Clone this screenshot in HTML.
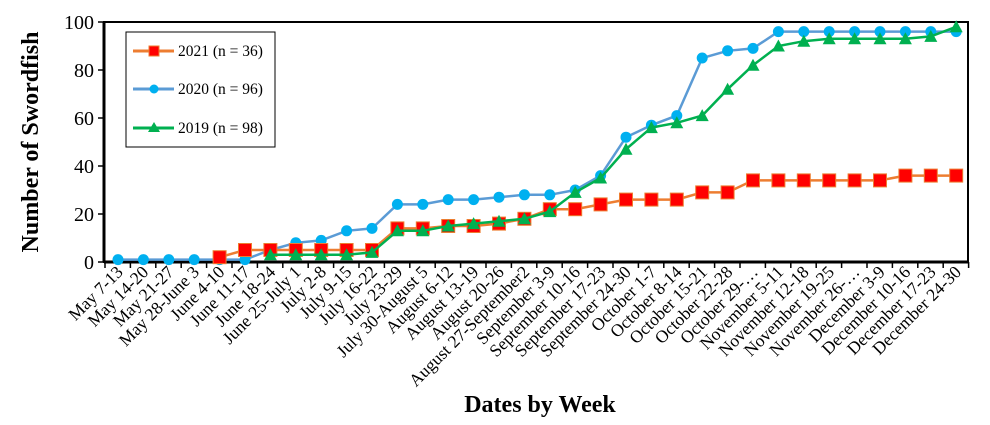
<!DOCTYPE html>
<html><head><meta charset="utf-8"><style>
body{margin:0;background:#fff}
svg text{font-family:"Liberation Serif",serif}
</style></head><body>
<svg id="s" width="990" height="420" xmlns="http://www.w3.org/2000/svg">
<rect x="104" y="22" width="864" height="240" fill="none" stroke="#000" stroke-width="2"/>
<line x1="104" y1="262" x2="968" y2="262" stroke="#000" stroke-width="3"/>
<line x1="104" y1="22" x2="104" y2="262" stroke="#000" stroke-width="3"/>
<g font-size="20" text-anchor="end">
<text x="94" y="269">0</text><text x="94" y="221">20</text><text x="94" y="173">40</text><text x="94" y="125">60</text><text x="94" y="77">80</text><text x="94" y="29">100</text>
</g>
<g stroke="#000" stroke-width="1.5">
<line x1="98" y1="262" x2="104" y2="262"/><line x1="98" y1="214" x2="104" y2="214"/><line x1="98" y1="166" x2="104" y2="166"/><line x1="98" y1="118" x2="104" y2="118"/><line x1="98" y1="70" x2="104" y2="70"/><line x1="98" y1="22" x2="104" y2="22"/>
</g>
<g id="xt" stroke="#000" stroke-width="1.5"></g>
<text transform="translate(38,142) rotate(-90)" font-size="24" font-weight="bold" text-anchor="middle">Number of Swordfish</text>
<text x="540" y="412" font-size="24" font-weight="bold" text-anchor="middle">Dates by Week</text>
<g id="xl" font-size="17.5" text-anchor="end">
<text>May 7-13</text><text>May 14-20</text><text>May 21-27</text><text>May 28-June 3</text><text>June 4-10</text><text>June 11-17</text><text>June 18-24</text><text>June 25-July 1</text><text>July 2-8</text><text>July 9-15</text><text>July 16-22</text><text>July 23-29</text><text>July 30-August 5</text><text>August 6-12</text><text>August 13-19</text><text>August 20-26</text><text>August 27-September2</text><text>September 3-9</text><text>September 10-16</text><text>September 17-23</text><text>September 24-30</text><text>October 1-7</text><text>October 8-14</text><text>October 15-21</text><text>October 22-28</text><text>October 29-…</text><text>November 5-11</text><text>November 12-18</text><text>November 19-25</text><text>November 26-…</text><text>December 3-9</text><text>December 10-16</text><text>December 17-23</text><text>December 24-30</text>
</g>
<g id="series"></g>
<rect x="126" y="32" width="149" height="115" fill="#fff" stroke="#000" stroke-width="1"/>
<line x1="133" y1="51" x2="174" y2="51" stroke="#ED7D31" stroke-width="3"/><rect x="149" y="46" width="10" height="10" fill="#f00" stroke="#ED7D31"/>
<line x1="133" y1="89" x2="174" y2="89" stroke="#5B9BD5" stroke-width="3"/><circle cx="154" cy="89" r="4.5" fill="#00B0F0"/>
<line x1="133" y1="128" x2="174" y2="128" stroke="#00B050" stroke-width="3"/><polygon points="154,122 160,132 148,132" fill="#00B050"/>
<g font-size="15.5"><text x="178" y="56">2021 (n = 36)</text><text x="178" y="94">2020 (n = 96)</text><text x="178" y="133">2019 (n = 98)</text></g>
</svg>
<script>
const X=i=>118+i*25.4,Y=v=>262-v*2.4,ns="http://www.w3.org/2000/svg";
document.querySelectorAll('#xl text').forEach((t,i)=>{t.setAttribute('transform',`translate(${X(i)+6},273) rotate(-45)`)});
const xt=document.getElementById('xt');
for(let i=0;i<=34;i++){const l=document.createElementNS(ns,'line');const x=105+i*25.4;l.setAttribute('x1',x);l.setAttribute('x2',x);l.setAttribute('y1',262);l.setAttribute('y2',268);xt.appendChild(l)}
const g=document.getElementById('series');
function el(n,a){const e=document.createElementNS(ns,n);for(const k in a)e.setAttribute(k,a[k]);g.appendChild(e);return e}
const d20=[1,1,1,1,1,1,5,8,9,13,14,24,24,26,26,27,28,28,30,36,52,57,61,85,88,89,96,96,96,96,96,96,96,96];
const d21=[2,5,5,5,5,5,5,14,14,15,15,16,18,22,22,24,26,26,26,29,29,34,34,34,34,34,34,36,36,36];
const d19=[3,3,3,3,4,13,13,15,16,17,18,21,29,35,47,56,58,61,72,82,90,92,93,93,93,93,94,98];
function line(d,o,c){el('polyline',{points:d.map((v,i)=>X(i+o)+','+Y(v)).join(' '),fill:'none',stroke:c,'stroke-width':2.5})}
line(d20,0,'#5B9BD5');
d20.forEach((v,i)=>el('circle',{cx:X(i),cy:Y(v),r:5.5,fill:'#00B0F0'}));
line(d21,4,'#ED7D31');
d21.forEach((v,i)=>el('rect',{x:X(i+4)-6.5,y:Y(v)-6.5,width:13,height:13,fill:'#f00',stroke:'#ED7D31'}));
line(d19,6,'#00B050');
d19.forEach((v,i)=>{const x=X(i+6),y=Y(v);el('polygon',{points:`${x},${y-6.5} ${x+6.5},${y+5.5} ${x-6.5},${y+5.5}`,fill:'#00B050'})});
</script>
</body></html>
